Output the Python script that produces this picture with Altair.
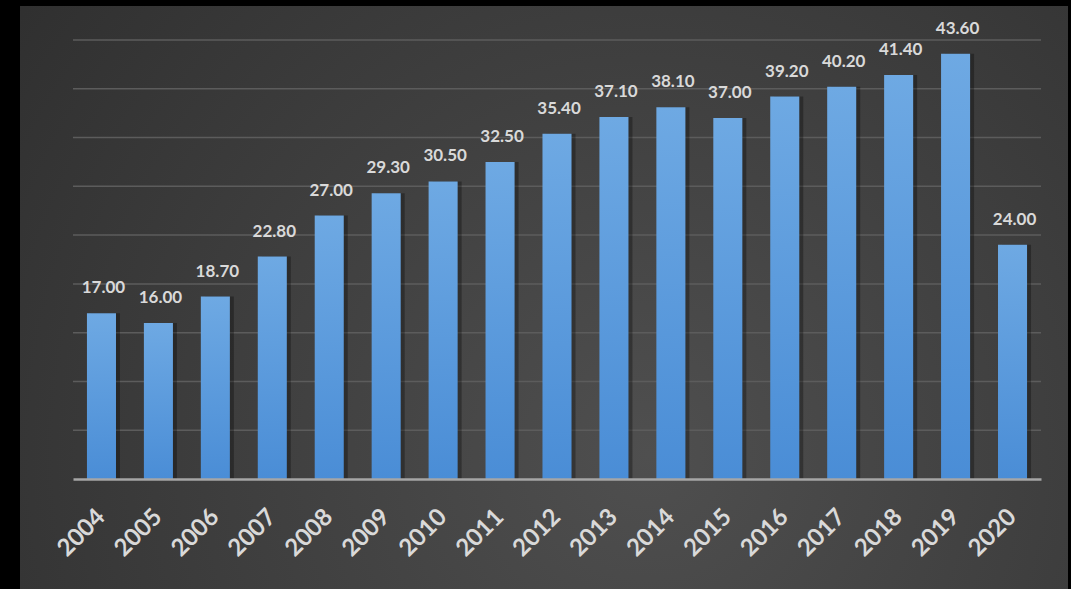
import altair as alt
import pandas as pd

years = ["2004", "2005", "2006", "2007", "2008", "2009", "2010", "2011", "2012",
         "2013", "2014", "2015", "2016", "2017", "2018", "2019", "2020"]
values = [17.00, 16.00, 18.70, 22.80, 27.00, 29.30, 30.50, 32.50, 35.40,
          37.10, 38.10, 37.00, 39.20, 40.20, 41.40, 43.60, 24.00]
grid_vals = [5, 10, 15, 20, 25, 30, 35, 40, 45]

df = pd.DataFrame({"year": years, "value": values})
gdf = pd.DataFrame({"v": grid_vals})
bgdf = pd.DataFrame({"a": [0]})

W, H = 968, 439
yscale = alt.Scale(domain=[0, 45], nice=False, zero=True)
xenc = alt.X("year:N", sort=years, scale=alt.Scale(paddingInner=0.49, paddingOuter=0.245),
             axis=alt.Axis(title=None, labelAngle=-45, labelAlign="right", labelBaseline="middle",
                           labelFont="Lato", labelFontWeight="bold", labelFontSize=24,
                           labelColor="#d9d9d9", labelPadding=34, labelOffset=0,
                           ticks=False, domainColor="#a6a6a6", domainWidth=2.5,
                           grid=False, zindex=1))

bg = alt.Chart(bgdf).mark_rect(
    color=alt.RadialGradient(
        gradient="radial", x1=0.6, y1=0.65, r1=0.0, x2=0.6, y2=0.65, r2=0.85,
        stops=[alt.GradientStop(offset=0, color="#4f4f4f"),
               alt.GradientStop(offset=1, color="#2b2b2b")])
).encode(x=alt.value(-53), x2=alt.value(W + 27), y=alt.value(-34), y2=alt.value(H + 110))

grid = alt.Chart(gdf).mark_rule(color="#5c5c5c", strokeWidth=1.5).encode(
    y=alt.Y("v:Q", scale=yscale, axis=None))

shadow = alt.Chart(df).mark_bar(xOffset=4, color="#000000", opacity=0.3).encode(
    x=xenc, y=alt.Y("value:Q", scale=yscale, axis=None))

bars = alt.Chart(df).mark_bar(
    color=alt.LinearGradient(
        gradient="linear", x1=0, y1=0, x2=0, y2=1,
        stops=[alt.GradientStop(offset=0, color="#6ea9e3"),
               alt.GradientStop(offset=1, color="#4a8dd6")])
).encode(x=xenc, y=alt.Y("value:Q", scale=yscale, axis=None))

labels = alt.Chart(df).mark_text(
    font="Lato", fontWeight="bold", fontSize=17, color="#d9d9d9",
    baseline="alphabetic", dy=-20, dx=2
).encode(x=xenc, y=alt.Y("value:Q", scale=yscale, axis=None),
         text=alt.Text("value:Q", format=".2f"))

chart = alt.layer(bg, grid, shadow, bars, labels).properties(
    width=W, height=H,
    autosize=alt.AutoSizeParams(type="none"),
    padding={"left": 73, "top": 40, "right": 30, "bottom": 110},
    background="#000000"
).configure_view(stroke=None)

chart.save("out.html", embed_options={"renderer": "svg", "actions": False})
